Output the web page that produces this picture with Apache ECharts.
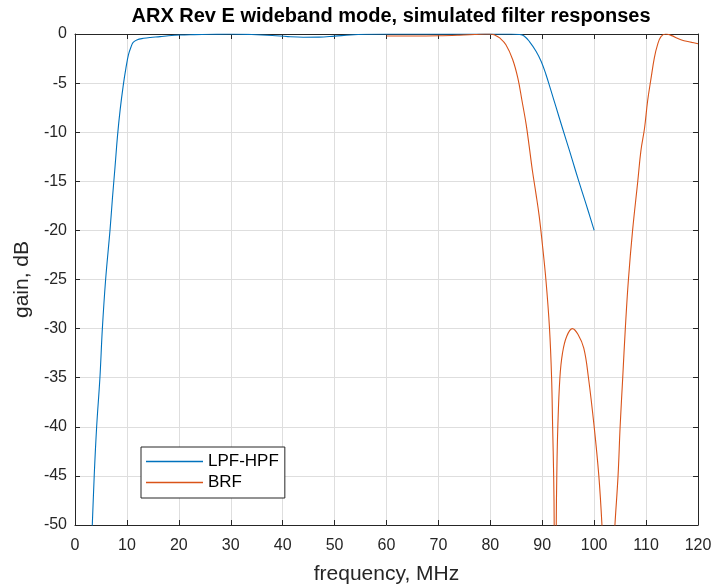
<!DOCTYPE html>
<html>
<head>
<meta charset="utf-8">
<script src="https://cdn.jsdelivr.net/npm/echarts@6/dist/echarts.min.js"></script>
<style>
  html, body { margin: 0; padding: 0; background: #ffffff; }
  #chart { width: 717px; height: 585px; }
</style>
</head>
<body>
<div id="chart"></div>
<script>
// LPF-HPF chain response (frequency in MHz, gain in dB)
const lpfFreq = [3.0, 3.33, 3.7, 4.17, 4.8, 5.27, 5.9, 6.74, 7.2, 7.7, 8.2, 8.7, 9.3, 9.8, 10.3, 10.8, 11.2, 11.9, 13.2, 14.5, 16.4, 18, 20.2, 23, 26, 30, 34, 38, 41, 44, 47, 50, 53, 56, 60, 65, 70, 75, 80, 84, 85.6, 86.5, 87.5, 88.8, 89.8, 90.7, 91.7, 92.6, 93.9, 95.2, 96.4, 97.7, 98.9, 100];
const lpfGain = [-54, -50, -45, -40, -35, -30, -25, -20, -16.8, -13.6, -10.3, -7.7, -5.2, -3.5, -2.1, -1.3, -0.85, -0.6, -0.44, -0.35, -0.27, -0.18, -0.1, -0.06, -0.03, 0, -0.05, -0.15, -0.27, -0.33, -0.32, -0.22, -0.1, -0.03, 0, 0, 0, 0, 0, 0, -0.05, -0.2, -0.75, -1.76, -2.8, -4.1, -5.8, -7.35, -9.6, -11.8, -13.9, -16.1, -18.1, -20];

// Band-reject filter response
const brfFreq = [60, 65, 70, 74, 77, 79, 80, 81, 81.8, 83.0, 84.3, 85.3, 86.1, 86.9, 87.5, 88.1, 88.8, 89.4, 89.9, 90.7, 91.4, 91.8, 92.0, 92.2, 92.3, 92.5, 92.7, 92.8, 93.0, 93.4, 93.9, 94.7, 95.8, 96.9, 98.0, 98.9, 100.0, 100.9, 101.5, 102.0, 102.7, 103.4, 104.0, 104.6, 105.0, 105.5, 106.0, 106.6, 107.4, 108.4, 109.0, 109.7, 110.3, 110.96, 111.6, 112.2, 112.9, 113.8, 114.8, 116.7, 118.8, 120];
const brfGain = [-0.2, -0.2, -0.18, -0.12, -0.05, 0, 0, -0.15, -0.4, -1.1, -2.6, -4.5, -6.8, -9.2, -11.5, -13.9, -16.3, -18.5, -20.8, -25, -30, -35, -40, -45, -50, -80, -50, -45, -40, -35, -32.5, -30.8, -30, -30.6, -32, -35, -40, -45, -50, -56, -68, -56, -50, -45, -40, -35, -30, -25, -20, -15, -11.9, -9.6, -6.8, -4.5, -2.4, -1.1, -0.24, 0, -0.14, -0.58, -0.85, -1.0];

const seriesNames = ['LPF-HPF', 'BRF'];
const xTicks = { min: 0, max: 120, interval: 10 };
const yTicks = { min: -50, max: 0, interval: 5 };

const pairs = (xs, ys) => xs.map((x, i) => [x, ys[i]]);

const AXIS_COLOR = '#262626';
const GRID_COLOR = '#dedede';
const FONT = '"Liberation Sans", Arial, Helvetica, sans-serif';

const chart = echarts.init(document.getElementById('chart'), null, { renderer: 'canvas' });

chart.setOption({
  backgroundColor: '#ffffff',
  animation: false,
  title: {
    text: 'ARX Rev E wideband mode, simulated filter responses',
    left: 386, top: 1, textAlign: 'center',
    textStyle: { fontFamily: FONT, fontSize: 20, fontWeight: 'bold', color: '#000000' }
  },
  grid: { left: 75, right: 19, top: 34, bottom: 60, containLabel: false, outerBoundsMode: 'none' },
  legend: {
    data: seriesNames,
    orient: 'vertical',
    left: 141, top: 447,
    padding: [6, 6, 7, 5],
    itemGap: 4,
    itemWidth: 57, itemHeight: 1.5,
    icon: 'rect',
    backgroundColor: '#ffffff',
    borderColor: AXIS_COLOR, borderWidth: 1, borderRadius: 0,
    textStyle: { fontFamily: FONT, fontSize: 17, color: '#000000' }
  },
  xAxis: [{
    type: 'value', min: xTicks.min, max: xTicks.max, interval: xTicks.interval,
    name: 'frequency, MHz', nameLocation: 'middle', nameGap: 39,
    nameTextStyle: { fontFamily: FONT, fontSize: 21, color: AXIS_COLOR },
    axisLine: { show: true, onZero: false, lineStyle: { color: AXIS_COLOR, width: 1 } },
    axisTick: { show: true, inside: true, length: 5, lineStyle: { color: AXIS_COLOR } },
    axisLabel: { fontFamily: FONT, fontSize: 16, color: AXIS_COLOR, margin: 13 },
    splitLine: { show: true, lineStyle: { color: GRID_COLOR, width: 1 } }
  }, {
    type: 'value', position: 'top', min: xTicks.min, max: xTicks.max, interval: xTicks.interval,
    axisLine: { show: true, onZero: false, lineStyle: { color: AXIS_COLOR, width: 1 } },
    axisTick: { show: true, inside: true, length: 5, lineStyle: { color: AXIS_COLOR } },
    axisLabel: { show: false }, splitLine: { show: false }
  }],
  yAxis: [{
    type: 'value', min: yTicks.min, max: yTicks.max, interval: yTicks.interval,
    name: 'gain, dB', nameLocation: 'middle', nameGap: 40, nameRotate: 90,
    nameTextStyle: { fontFamily: FONT, fontSize: 21, color: AXIS_COLOR },
    axisLine: { show: true, onZero: false, lineStyle: { color: AXIS_COLOR, width: 1 } },
    axisTick: { show: true, inside: true, length: 5, lineStyle: { color: AXIS_COLOR } },
    axisLabel: { fontFamily: FONT, fontSize: 16, color: AXIS_COLOR, margin: 8 },
    splitLine: { show: true, lineStyle: { color: GRID_COLOR, width: 1 } }
  }, {
    type: 'value', position: 'right', min: yTicks.min, max: yTicks.max, interval: yTicks.interval,
    axisLine: { show: true, onZero: false, lineStyle: { color: AXIS_COLOR, width: 1 } },
    axisTick: { show: true, inside: true, length: 5, lineStyle: { color: AXIS_COLOR } },
    axisLabel: { show: false }, splitLine: { show: false }
  }],
  series: [{
    name: seriesNames[0], type: 'line', data: pairs(lpfFreq, lpfGain),
    showSymbol: false, symbol: 'none', smooth: 0.4, clip: true,
    lineStyle: { color: '#0072BD', width: 1.1 }, itemStyle: { color: '#0072BD' }, z: 3
  }, {
    name: seriesNames[1], type: 'line', data: pairs(brfFreq, brfGain),
    showSymbol: false, symbol: 'none', smooth: 0.4, clip: true,
    lineStyle: { color: '#D95319', width: 1.1 }, itemStyle: { color: '#D95319' }, z: 3
  }]
});
</script>
</body>
</html>
